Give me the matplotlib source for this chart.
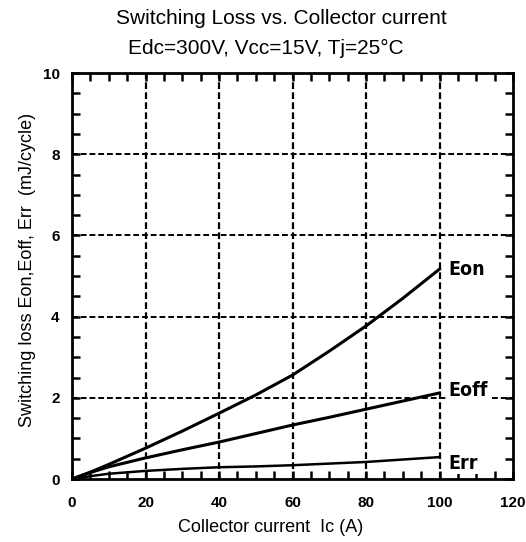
import matplotlib
matplotlib.use("Agg")
import matplotlib.pyplot as plt
from matplotlib.ticker import MultipleLocator
from matplotlib import font_manager as fm

plt.rcParams['font.family'] = ['Liberation Sans', 'DejaVu Sans']

current = [0, 5, 10, 20, 30, 40, 50, 60, 70, 80, 90, 100]
eon = [0, 0.17, 0.36, 0.76, 1.18, 1.62, 2.07, 2.56, 3.15, 3.77, 4.45, 5.17]
eoff = [0, 0.16, 0.30, 0.52, 0.72, 0.91, 1.12, 1.33, 1.52, 1.72, 1.92, 2.12]
err = [0, 0.07, 0.13, 0.20, 0.25, 0.29, 0.31, 0.34, 0.38, 0.42, 0.48, 0.54]
curve_names = ["Eon", "Eoff", "Err"]
xticks = [0, 20, 40, 60, 80, 100, 120]
yticks = [0, 2, 4, 6, 8, 10]

# pick a condensed bold font for the curve labels if available
cond_file = None
for f in fm.findSystemFonts():
    low = f.lower()
    if 'dejavusanscondensed-bold.ttf' in low or 'liberationsansnarrow-bold.ttf' in low:
        cond_file = f
        break
if cond_file:
    label_font = fm.FontProperties(fname=cond_file, size=14)
else:
    label_font = fm.FontProperties(family='DejaVu Sans Mono', weight='bold', size=12)

fig = plt.figure(figsize=(5.26, 5.42), dpi=100)
ax = fig.add_axes([0.1369, 0.1162, 0.8384, 0.749])

for xv in xticks[1:-1]:
    ax.axvline(xv, color='black', lw=1.6, ls=(0, (3, 1.5)), zorder=1)
for yv in yticks[1:-1]:
    ax.axhline(yv, color='black', lw=1.4, ls=(0, (3, 1.5)), zorder=1)

for ys in (eon, eoff, err):
    ax.plot(current, ys, color='black', lw=2.2 if ys is not err else 1.8, zorder=3)

ends = [eon[-1], eoff[-1] + 0.07, err[-1] - 0.15]
for name, yv in zip(curve_names, ends):
    ax.text(102.5, yv, name, fontproperties=label_font,
            ha='left', va='center', zorder=4,
            bbox=dict(facecolor='white', edgecolor='none', pad=1))

ax.set_xlim(0, 120)
ax.set_ylim(0, 10)
ax.set_xticks(xticks)
ax.set_yticks(yticks)
ax.xaxis.set_minor_locator(MultipleLocator(5))
ax.yaxis.set_minor_locator(MultipleLocator(0.5))
ax.tick_params(which='both', direction='in', top=True, right=True, width=1.8, color='black')
ax.tick_params(which='major', length=6, labelsize=11)
ax.tick_params(which='minor', length=6)
ax.tick_params(axis='x', which='major', pad=12)
ax.tick_params(axis='y', which='major', pad=9)
for lab in ax.get_xticklabels() + ax.get_yticklabels():
    lab.set_fontweight('bold')
for s in ax.spines.values():
    s.set_linewidth(2)

ax.set_xlabel("Collector current  Ic (A)", fontsize=13)
ax.set_ylabel("Switching loss Eon,Eoff, Err  (mJ/cycle)", fontsize=13)
ax.xaxis.set_label_coords((271 - 72) / 441, (479 - 527) / 406)
ax.yaxis.set_label_coords((27 - 72) / 441, (479 - 270) / 406)
ax.xaxis.label.set_va('center')
ax.yaxis.label.set_va('center')

fig.text(281/526, 1 - 19/542, "Switching Loss vs. Collector current", fontsize=15,
         ha='center', va='center')
fig.text(266/526, 1 - 48/542, "Edc=300V, Vcc=15V, Tj=25°C", fontsize=15,
         ha='center', va='center')

fig.savefig("out.png", dpi=100)
